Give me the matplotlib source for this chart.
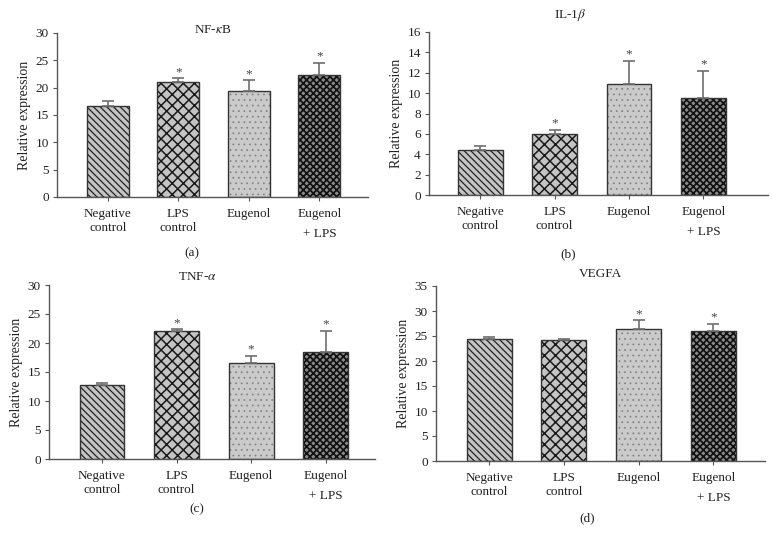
import numpy as np
import matplotlib.pyplot as plt

plt.rcParams['font.family'] = ['Liberation Serif', 'DejaVu Serif']
plt.rcParams['mathtext.fontset'] = 'stix'

# ---- data ----
groups = ["Negative\ncontrol", "LPS\ncontrol", "Eugenol", "Eugenol\n+ LPS"]

nfkb_vals = [16.7, 21.1, 19.3, 22.4]
nfkb_err = [0.8, 0.6, 2.1, 2.2]
nfkb_star = [False, True, True, True]

il1b_vals = [4.4, 6.0, 10.9, 9.5]
il1b_err = [0.45, 0.4, 2.3, 2.7]
il1b_star = [False, True, True, True]

tnfa_vals = [12.7, 22.1, 16.5, 18.5]
tnfa_err = [0.4, 0.3, 1.3, 3.6]
tnfa_star = [False, True, True, True]

vegfa_vals = [24.4, 24.2, 26.4, 26.0]
vegfa_err = [0.5, 0.2, 1.8, 1.5]
vegfa_star = [False, False, True, True]

# fill style per group: (face, hatch, hatch colour, hatch linewidth)
styles = [
    ('#c4c4c4', '\\' * 5, '#222222', 0.9),
    ('#c4c4c4', 'xxx', '#1a1a1a', 1.1),
    ('#cacaca', '...', '#808080', 0.5),
    ('#8c8c8c', 'xxxxx', '#111111', 1.25),
]

# panel layout in pixels (left, right, bottom, top) for a 773x544 figure
W, H = 773, 544
panels = [
    dict(box=(57, 368, 197, 33), vals=nfkb_vals, err=nfkb_err, star=nfkb_star,
         ymax=30, step=5, title="NF-$\\kappa$B", tpos=(213, 30), lab="(a)", lpos=(192, 253),
         xlim=(-0.72, 3.69)),
    dict(box=(429, 768, 195, 32), vals=il1b_vals, err=il1b_err, star=il1b_star,
         ymax=16, step=2, title="IL-1$\\beta$", tpos=(570, 15), lab="(b)", lpos=(568, 254),
         xlim=(-0.69, 3.87)),
    dict(box=(49, 375, 459, 285), vals=tnfa_vals, err=tnfa_err, star=tnfa_star,
         ymax=30, step=5, title="TNF-$\\alpha$", tpos=(197, 277), lab="(c)", lpos=(197, 509),
         xlim=(-0.71, 3.66)),
    dict(box=(436, 765, 461, 286), vals=vegfa_vals, err=vegfa_err, star=vegfa_star,
         ymax=35, step=5, title="VEGFA", tpos=(600, 274), lab="(d)", lpos=(587, 518),
         xlim=(-0.71, 3.69)),
]

fig = plt.figure(figsize=(7.73, 5.44), dpi=100)
x = np.arange(len(groups))

for p in panels:
    l, r, b, t = p['box']
    ax = fig.add_axes([l / W, 1 - b / H, (r - l) / W, (b - t) / H])

    # hatched fill first, then the outline on top (hatch colour != edge colour)
    for xi, v, (fc, h, hc, hlw) in zip(x, p['vals'], styles):
        with plt.rc_context({'hatch.linewidth': hlw}):
            ax.bar(xi, v, width=0.6, color=fc, hatch=h, edgecolor=hc, linewidth=0, zorder=2)
    ax.bar(x, p['vals'], width=0.6, fill=False, edgecolor='#333333', linewidth=1.0, zorder=2.5)

    ax.errorbar(x, p['vals'], yerr=[np.zeros(4), p['err']], fmt='none',
                ecolor='#6e6e6e', elinewidth=1.2, capsize=4, capthick=1.2, zorder=3)
    for xi, v, e, s in zip(x, p['vals'], p['err'], p['star']):
        if s:
            ax.annotate('*', (xi, v + e), xytext=(0, 0), textcoords='offset points',
                        ha='center', va='bottom', fontsize=9.5, color='#444444')

    ax.set_xlim(*p['xlim'])
    ax.set_ylim(0, p['ymax'])
    ax.set_yticks(np.arange(0, p['ymax'] + 1, p['step']))
    ax.set_xticks(x)
    ax.set_xticklabels(groups)
    for i, tl in enumerate(ax.get_xticklabels()):
        tl.set_linespacing(1.9 if i == 3 else 1.25)
    ax.tick_params(axis='both', labelsize=9.5, colors='#222222', length=3, width=0.8)
    ax.tick_params(axis='x', color='#555555', pad=5)
    ax.tick_params(axis='y', color='#555555', pad=3)
    for sp in ['top', 'right']:
        ax.spines[sp].set_visible(False)
    for sp in ['left', 'bottom']:
        ax.spines[sp].set_color('#555555')
        ax.spines[sp].set_linewidth(1.0)
    ax.set_ylabel("Relative expression", fontsize=10, color='#222222', labelpad=3)

    fig.text(p['tpos'][0] / W, 1 - p['tpos'][1] / H, p['title'], ha='center', va='center',
             fontsize=9.5, color='#222222')
    fig.text(p['lpos'][0] / W, 1 - p['lpos'][1] / H, p['lab'], ha='center', va='center',
             fontsize=9.5, color='#222222')

fig.savefig("out.png", dpi=100)
plt.close()
